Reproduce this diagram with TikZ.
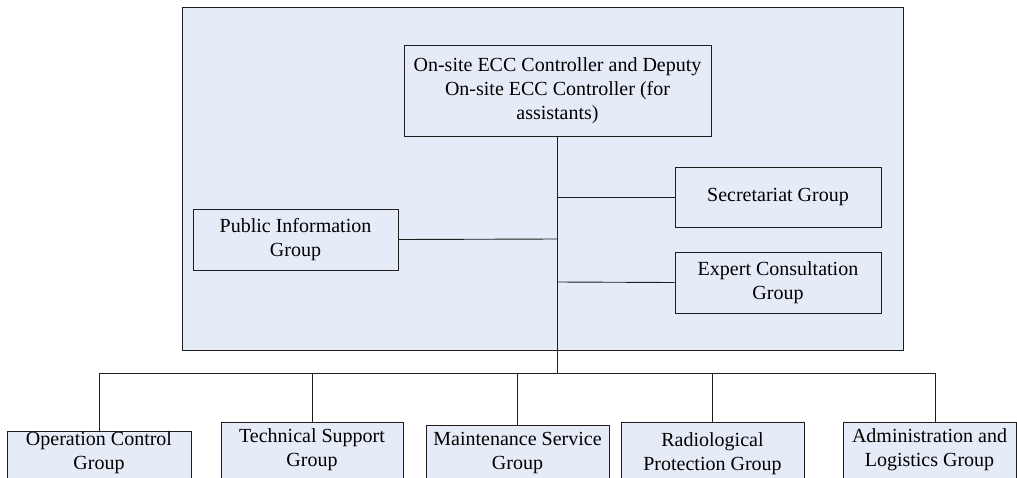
\documentclass[tikz,border=0pt]{standalone}
\usepackage{fontspec}
\setmainfont{Liberation Serif}
\definecolor{panelblue}{HTML}{E6ECF7}
\definecolor{edge}{HTML}{1E1E1E}
\newcommand{\lowpad}[1]{\rule[-#1]{0pt}{#1}}
\tikzset{
  box/.style={draw=edge, line width=0.9pt, fill=panelblue, align=center, inner sep=0pt,
    font=\fontsize{20}{24}\selectfont},
  link/.style={draw=edge, line width=0.9pt}
}
\begin{document}
\begin{tikzpicture}[x=1pt,y=-1pt]
\useasboundingbox (0,0) rectangle (1017,477);
% outer panel
\node[box, minimum width=721, minimum height=343] (panel) at (542.5,178.5) {};
% inner groups
\node[box, minimum width=307, minimum height=91] (ctrl) at (557.5,90.5)
  {On-site ECC Controller and Deputy\\On-site ECC Controller (for\\assistants)};
\node[box, minimum width=205, minimum height=61] (pub) at (295.5,239.5)
  {Public Information\\Group};
\node[box, minimum width=206, minimum height=60] (sec) at (778,197)
  {Secretariat Group};
\node[box, minimum width=206, minimum height=61] (exp) at (778,282.5)
  {Expert Consultation\\Group};
% bottom groups
\node[box, anchor=north, minimum width=184, minimum height=49] (op) at (99,431)
  {Operation Control\\Group\lowpad{10pt}};
\node[box, anchor=north, minimum width=182, minimum height=58] (tech) at (312,422)
  {Technical Support\\Group\lowpad{8pt}};
\node[box, anchor=north, minimum width=183, minimum height=56] (mnt) at (517.5,425)
  {Maintenance Service\\Group};
\node[box, anchor=north, minimum width=183, minimum height=62] (rad) at (712.5,422)
  {Radiological\\Protection Group};
\node[box, anchor=north, minimum width=173, minimum height=58] (adm) at (929.5,422)
  {Administration and\\Logistics Group\lowpad{8pt}};
% junctions
\coordinate (jsec) at (557,197);
\coordinate (jpub) at (557,239);
\coordinate (jexp) at (557,282);
\coordinate (bus) at (557,373);
\coordinate (b1) at (99,373);
\coordinate (b2) at (312,373);
\coordinate (b3) at (517.5,373);
\coordinate (b4) at (712.5,373);
\coordinate (b5) at (935,373);
% connectors
\draw[link] (ctrl.south -| bus) -- (bus);
\draw[link] (jsec) -- (sec.west);
\draw[link] (pub.east) -- (jpub);
\draw[link] (jexp) -- (exp.west);
\draw[link] (b1) -- (b5);
\draw[link] (b1) -- (op.north);
\draw[link] (b2) -- (tech.north);
\draw[link] (b3) -- (mnt.north);
\draw[link] (b4) -- (rad.north);
\draw[link] (b5) -- (b5 |- adm.north);
\end{tikzpicture}
\end{document}
